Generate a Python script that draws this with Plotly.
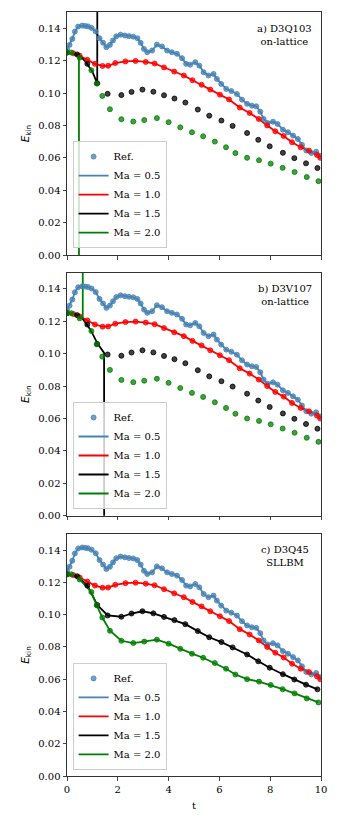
import plotly.graph_objects as go
from plotly.subplots import make_subplots

# reference data, the same dots in all three panels
t_ref_05 = [0.00, 0.10, 0.21, 0.31, 0.44, 0.60, 0.72, 0.83, 0.97, 1.13, 1.28, 1.42, 1.55, 1.69, 1.81,
            1.94, 2.11, 2.28, 2.44, 2.61, 2.77, 2.90, 3.03, 3.16, 3.35, 3.54, 3.74, 3.94, 4.13, 4.33,
            4.53, 4.69, 4.85, 5.05, 5.21, 5.38, 5.57, 5.77, 5.90, 6.07, 6.27, 6.47, 6.69, 6.89, 7.09,
            7.28, 7.45, 7.61, 7.74, 7.90, 8.11, 8.29, 8.50, 8.70, 8.90, 9.09, 9.25, 9.42, 9.62, 9.81, 9.95]
e_ref_05 = [0.1270, 0.1297, 0.1334, 0.1379, 0.1410, 0.1416, 0.1414, 0.1411, 0.1402, 0.1380, 0.1338,
            0.1310, 0.1283, 0.1297, 0.1324, 0.1350, 0.1360, 0.1355, 0.1351, 0.1348, 0.1338, 0.1310,
            0.1272, 0.1252, 0.1262, 0.1299, 0.1287, 0.1262, 0.1252, 0.1242, 0.1215, 0.1180, 0.1175,
            0.1190, 0.1169, 0.1128, 0.1108, 0.1118, 0.1087, 0.1056, 0.1025, 0.1012, 0.0994, 0.0959,
            0.0933, 0.0922, 0.0918, 0.0885, 0.0840, 0.0815, 0.0823, 0.0809, 0.0774, 0.0758, 0.0737,
            0.0716, 0.0680, 0.0645, 0.0630, 0.0638, 0.0613]

t_ref_10 = [0.00, 0.25, 0.50, 0.80, 1.10, 1.40, 1.62, 1.90, 2.30, 2.70, 3.10, 3.45, 3.82, 4.22, 4.60,
            4.94, 5.30, 5.64, 6.02, 6.38, 6.80, 7.19, 7.55, 7.88, 8.20, 8.53, 8.86, 9.20, 9.53, 9.84, 9.97]
e_ref_10 = [0.1250, 0.1245, 0.1230, 0.1205, 0.1180, 0.1167, 0.1168, 0.1185, 0.1195, 0.1198, 0.1192,
            0.1182, 0.1158, 0.1132, 0.1108, 0.1079, 0.1051, 0.1021, 0.0990, 0.0960, 0.0910, 0.0877,
            0.0840, 0.0800, 0.0764, 0.0735, 0.0696, 0.0665, 0.0644, 0.0618, 0.0600]

t_ref_15 = [0.00, 0.40, 0.80, 1.19, 1.60, 2.14, 2.54, 2.97, 3.40, 3.82, 4.23, 4.66, 5.15, 5.60, 6.08,
            6.52, 7.09, 7.53, 7.98, 8.50, 8.95, 9.41, 9.86]
e_ref_15 = [0.1250, 0.1238, 0.1180, 0.1060, 0.0995, 0.0987, 0.1007, 0.1021, 0.1008, 0.0986, 0.0966,
            0.0941, 0.0898, 0.0860, 0.0830, 0.0797, 0.0753, 0.0711, 0.0671, 0.0631, 0.0598, 0.0566, 0.0537]

t_ref_20 = [0.00, 0.17, 0.50, 0.96, 1.17, 1.39, 1.69, 2.14, 2.61, 3.04, 3.54, 4.00, 4.46, 4.92, 5.36,
            5.82, 6.26, 6.63, 7.09, 7.56, 8.02, 8.49, 8.96, 9.44, 9.90]
e_ref_20 = [0.1250, 0.1250, 0.1218, 0.1140, 0.1058, 0.0982, 0.0900, 0.0838, 0.0824, 0.0833, 0.0845,
            0.0820, 0.0788, 0.0758, 0.0733, 0.0700, 0.0665, 0.0629, 0.0600, 0.0585, 0.0564, 0.0538,
            0.0512, 0.0481, 0.0456]

# simulations that blow up (panels a and b)
t_a_15 = [0.00, 0.47, 0.73, 1.00, 1.19, 1.22]
e_a_15 = [0.1250, 0.1235, 0.1194, 0.1132, 0.1060, 0.6]
t_a_20 = [0.00, 0.25, 0.47, 0.48]
e_a_20 = [0.1250, 0.1245, 0.1225, -0.6]
t_b_15 = [0.00, 0.30, 0.60, 0.93, 1.19, 1.46, 1.48]
e_b_15 = [0.1250, 0.1245, 0.1219, 0.1147, 0.1065, 0.1005, -0.6]
t_b_20 = [0.00, 0.30, 0.47, 0.62, 0.63]
e_b_20 = [0.1250, 0.1245, 0.1229, 0.1220, 0.6]

panel_labels = ["a) D3Q103<br>on-lattice", "b) D3V107<br>on-lattice", "c) D3Q45<br>SLLBM"]
mach = ["0.5", "1.0", "1.5", "2.0"]
colors = {"0.5": "70,130,180", "1.0": "255,0,0", "1.5": "0,0,0", "2.0": "0,128,0"}

refs = {"0.5": (t_ref_05, e_ref_05), "1.0": (t_ref_10, e_ref_10),
        "1.5": (t_ref_15, e_ref_15), "2.0": (t_ref_20, e_ref_20)}
sims = [
    {"0.5": refs["0.5"], "1.0": refs["1.0"], "1.5": (t_a_15, e_a_15), "2.0": (t_a_20, e_a_20)},
    {"0.5": refs["0.5"], "1.0": refs["1.0"], "1.5": (t_b_15, e_b_15), "2.0": (t_b_20, e_b_20)},
    refs,
]

fig = make_subplots(rows=3, cols=1)
legends = ["legend", "legend2", "legend3"]

for i in range(3):
    row = i + 1
    for m in mach:
        t, e = sims[i][m]
        fig.add_trace(go.Scatter(x=t, y=e, mode="lines", name="Ma = " + m,
                                 line=dict(color="rgb(%s)" % colors[m], width=1.8),
                                 legend=legends[i], legendrank=2 + mach.index(m)), row=row, col=1)
    for m in mach:
        t, e = refs[m]
        fig.add_trace(go.Scatter(x=t, y=e, mode="markers", name="Ref.",
                                 marker=dict(size=5, color="rgba(%s,0.75)" % colors[m],
                                             line=dict(color="rgba(%s,0.8)" % colors[m], width=1)),
                                 showlegend=(m == "0.5"), legend=legends[i], legendrank=1),
                      row=row, col=1)

domains = [[0.6819, 1.0], [0.3407, 0.6588], [0.0, 0.3168]]
legend_y = [0.691, 0.3495, 0.008]
legend_style = dict(x=0.022, xanchor="left", yanchor="bottom", bgcolor="rgba(255,255,255,0.8)",
                    bordercolor="#cccccc", borderwidth=1, font=dict(family="DejaVu Serif", size=10))

for i in range(3):
    row = i + 1
    fig.update_xaxes(range=[0, 10], tickvals=[0, 2, 4, 6, 8, 10], ticks="outside", ticklen=3.5,
                     showline=True, mirror=True, linecolor="#333", linewidth=1, showgrid=False,
                     zeroline=False, automargin=False, showticklabels=(row == 3), row=row, col=1)
    fig.update_yaxes(range=[0, 0.15], tickvals=[0, 0.02, 0.04, 0.06, 0.08, 0.10, 0.12, 0.14],
                     tickformat=".2f", ticks="outside", ticklen=3.5, showline=True, mirror=True,
                     linecolor="#333", linewidth=1, showgrid=False, zeroline=False, automargin=False,
                     domain=domains[i], row=row, col=1,
                     title=dict(text="<i>E</i><sub>kin</sub>", standoff=6,
                                font=dict(family="DejaVu Sans", size=10.5)))
    axis_suffix = "" if row == 1 else str(row)
    fig.add_annotation(text=panel_labels[i], xref="x%s domain" % axis_suffix,
                       yref="y%s domain" % axis_suffix, x=0.858, y=0.965, xanchor="center",
                       yanchor="top", align="center", showarrow=False,
                       font=dict(family="DejaVu Serif", size=10))
    fig.update_layout({legends[i]: dict(legend_style, y=legend_y[i])})

fig.update_xaxes(title=dict(text="t", standoff=8, font=dict(family="DejaVu Serif", size=10)), row=3, col=1)

# the page body adds 8px all round, so the figure is 8px smaller on each side
fig.update_layout(width=332, height=809, margin=dict(l=59, r=19, t=4, b=41),
                  plot_bgcolor="white", paper_bgcolor="white",
                  font=dict(family="DejaVu Serif", size=10, color="black"))

fig.write_html("out.html")
